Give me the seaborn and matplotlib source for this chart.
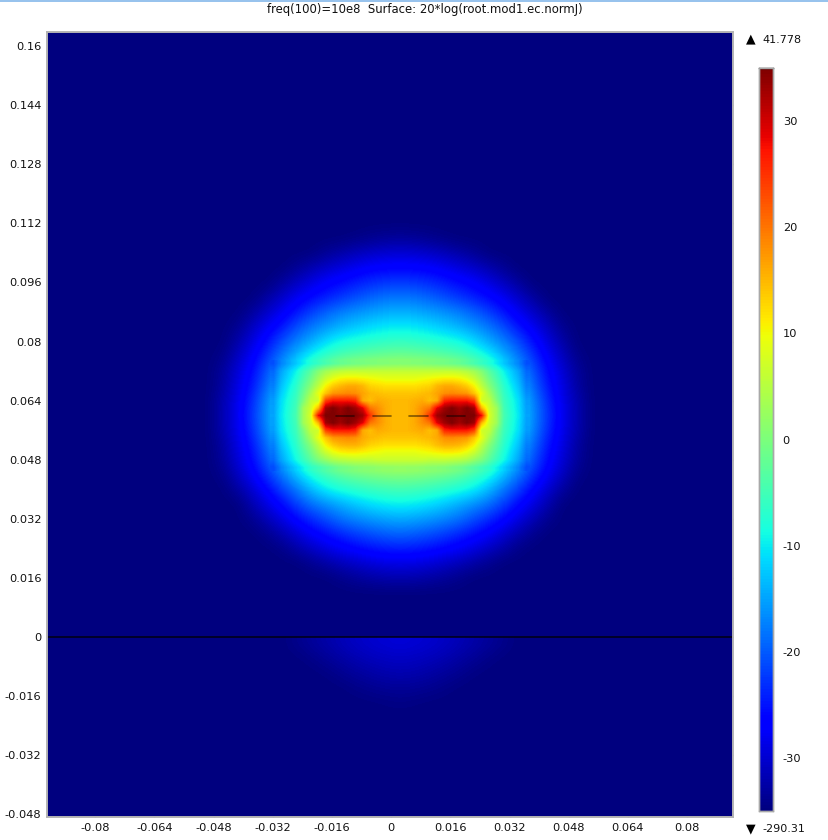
import numpy as np
import pandas as pd
import matplotlib.pyplot as plt
import seaborn as sns
from matplotlib.lines import Line2D

title = "freq(100)=10e8  Surface: 20*log(root.mod1.ec.normJ)"
max_label = "41.778"
min_label = "-290.31"
x_ticks = [-0.08, -0.064, -0.048, -0.032, -0.016, 0, 0.016, 0.032, 0.048, 0.064, 0.08]
y_ticks = [-0.048, -0.032, -0.016, 0, 0.016, 0.032, 0.048, 0.064, 0.08, 0.096, 0.112, 0.128, 0.144, 0.16]
cbar_ticks = [-30, -20, -10, 0, 10, 20, 30]

# the pattern is centred a bit right of x=0
center_x = 0.0024
center_y = 0.06

# field: rows y=0.112 down to 0.008, cols are distance from center_x, 0.004 apart
field_half = [
    [-35, -35, -35, -35, -35, -35, -35, -35, -35, -35, -35, -35, -35, -35, -35],
    [-33.3, -33.5, -34, -34.6, -35, -35, -35, -35, -35, -35, -35, -35, -35, -35, -35],
    [-29.8, -30, -30.6, -31.4, -32.5, -33.6, -34.9, -35, -35, -35, -35, -35, -35, -35, -35],
    [-26.3, -26.5, -27, -28, -29.2, -30.5, -32, -33.7, -35, -35, -35, -35, -35, -35, -35],
    [-22.2, -22.6, -23.3, -24.5, -25.8, -27, -29, -31, -33.2, -35, -35, -35, -35, -35, -35],
    [-18, -18.5, -19.5, -21, -22.7, -24.3, -26, -28, -30.5, -33, -35, -35, -35, -35, -35],
    [-14, -14.5, -15.3, -16.3, -17.5, -19.5, -22, -25, -28, -30.5, -33.2, -35, -35, -35, -35],
    [-9.9, -10.4, -11.2, -12.5, -14, -16, -18, -21, -25, -28, -31, -34, -35, -35, -35],
    [-6, -6.4, -7, -7.8, -8.6, -11, -14.5, -17.5, -21, -25.5, -29.3, -32.5, -35, -35, -35],
    [-1, -1.3, -2, -3, -4.2, -6.3, -9, -13.5, -18, -22.7, -27.5, -31, -34.3, -35, -35],
    [6, 6, 6, 6, 5, 1.5, -3.5, -9.5, -15, -20.5, -26, -29.7, -33.3, -35, -35],
    [12, 12, 13, 16, 15, 10.5, 1, -7, -13, -19, -25, -29, -33, -35, -35],
    [15, 15, 13, 25, 26, 25, 4, -5.5, -11, -17, -23.5, -28.5, -32, -35, -35],
    [15, 15, 24, 35, 35, 35, 6, -4.5, -10.4, -16.6, -22.8, -28.2, -31.9, -35, -35],
    [15, 15, 13, 25, 26, 25, 4, -5.5, -11, -17, -23.5, -28.5, -32, -35, -35],
    [12, 12, 13, 15.5, 15, 10.5, 1, -7, -13, -19, -25, -29, -33, -35, -35],
    [6.5, 6.5, 6, 6, 5, 2, -3, -9, -15, -20.5, -26, -29.7, -33.3, -35, -35],
    [0.5, 0.2, -0.5, -1.5, -3, -5.5, -8, -13, -18, -23, -27.5, -31, -34.3, -35, -35],
    [-5, -5.3, -6, -7, -8, -9.7, -13.5, -18, -22, -26.5, -30, -33, -35, -35, -35],
    [-9.6, -10, -11, -12.5, -14.5, -16.5, -18.5, -22, -26, -29, -32, -35, -35, -35, -35],
    [-14.5, -15, -15.8, -17, -18.3, -21, -23.5, -26.2, -29, -31.5, -34, -35, -35, -35, -35],
    [-19.3, -19.8, -20.8, -22, -23.7, -25.5, -27.3, -29.7, -32, -34, -35, -35, -35, -35, -35],
    [-24.2, -24.5, -25.2, -26.3, -27.5, -29, -30.7, -32.5, -34.4, -35, -35, -35, -35, -35, -35],
    [-28.8, -29, -29.6, -30.5, -31.5, -32.7, -34, -35, -35, -35, -35, -35, -35, -35, -35],
    [-32, -32.2, -32.7, -33.4, -34.2, -35, -35, -35, -35, -35, -35, -35, -35, -35, -35],
    [-35, -35, -35, -35, -35, -35, -35, -35, -35, -35, -35, -35, -35, -35, -35],
    [-35, -35, -35, -35, -35, -35, -35, -35, -35, -35, -35, -35, -35, -35, -35],
]

# finer look at the hot spots: rows dy=0.014 down to -0.014, cols dx=0 .. 0.034, 0.002 apart
hot_half = [
    [0.8, 0.6, 0.5, 0.3, 0, -0.4, -0.8, -1.3, -1.9, -3.1, -4.4, -6, -7.6, -10, -12.5, -14.9, -17.3, -20.8],
    [6, 6, 6, 6, 6, 6, 6, 6, 5.5, 4.5, 3, 0.5, -3, -6, -9.5, -12.2, -15, -19.1],
    [9, 9, 9, 9.5, 10, 10.5, 11, 11, 10.5, 9, 6.5, 3, -1, -4.5, -8.2, -11.1, -14, -18.3],
    [12, 12, 12, 12.5, 13, 15, 16, 16, 15, 13.5, 10.5, 5.5, 1, -3, -7, -10, -13, -17.5],
    [14, 14, 14, 14.5, 15, 16.5, 18, 18.5, 18, 17.5, 14, 9, 3.5, -1.5, -6.2, -9, -12, -16.5],
    [15, 15, 15.5, 16, 14.5, 16, 26, 27, 27, 27, 24, 7, 6, 0, -5.5, -8.2, -11, -15.5],
    [15, 15, 16, 18, 20, 29, 33, 35, 33, 35, 33, 15, 7, 3, -5, -7.8, -10.7, -15.2],
    [15, 15, 16, 19, 25, 33, 35, 35, 34, 35, 35, 28, 8, 3, -4.5, -7.5, -10.4, -15],
    [15, 15, 16, 18, 20, 29, 33, 35, 33, 35, 33, 15, 7, 3, -5, -7.8, -10.7, -15.2],
    [15, 15, 15.5, 16, 14.5, 16, 26, 27, 27, 27, 24, 7, 6, 0, -5.5, -8.2, -11, -15.5],
    [14, 14, 14, 14.5, 15, 16, 18, 18.5, 18, 17.5, 14, 9, 3.5, -1.5, -6.2, -9, -12, -16.5],
    [12, 12, 12, 12.5, 13, 14.5, 15.5, 15.5, 15, 13.5, 10.5, 5.5, 1, -3, -7, -10, -13, -17.5],
    [9, 9, 9, 9.5, 10, 10.5, 11, 11, 10.5, 9, 6.5, 3, -1, -4.5, -8, -11, -14, -18.3],
    [6.5, 6.5, 6.5, 6.5, 6, 6, 6, 5.5, 5, 4, 2, 0, -3, -6, -9, -12, -15, -19.1],
    [2, 1.9, 1.8, 1.5, 1.1, 0.8, 0.4, -0.3, -1, -2.3, -3.6, -5.2, -6.8, -9.4, -12, -14.6, -17.3, -21],
]

# weak lobe below the y=0 interface: rows y=-0.002 .. -0.022, cols dx=0 .. 0.032
lobe_half = [
    [-29.5, -29.8, -30.2, -30.8, -31.6, -32.5, -33.3, -34.2, -35],
    [-30.8, -31, -31.4, -32, -32.8, -33.6, -34.5, -35, -35],
    [-32, -32.2, -32.7, -33.3, -34, -34.8, -35, -35, -35],
    [-33.5, -33.7, -34, -34.5, -35, -35, -35, -35, -35],
    [-34.6, -34.8, -35, -35, -35, -35, -35, -35, -35],
    [-35, -35, -35, -35, -35, -35, -35, -35, -35],
]

# wire segments of the antenna
wire_y = 0.0598
wire_start = [-0.0149, -0.0049, 0.0049, 0.0151]
wire_end = [-0.0100, 0.0, 0.0100, 0.0200]


def mirror(rows):
    rows = np.array(rows, dtype=float)
    return np.hstack([rows[:, :0:-1], rows])


step = 0.004
n_side = 24
x_cols = center_x + step * np.arange(-n_side, n_side + 1)
y_rows = 0.168 - step * np.arange(56)

field = np.full((len(y_rows), len(x_cols)), -35.0)
top_row = int(round((0.168 - 0.112) / step))
window = mirror(field_half)
left_col = n_side - (window.shape[1] // 2)
field[top_row:top_row + window.shape[0], left_col:left_col + window.shape[1]] = window
df = pd.DataFrame(field, index=np.round(y_rows, 3), columns=np.round(x_cols, 4))


def col_pos(x):
    return (np.asarray(x) - x_cols[0]) / step + 0.5


def row_pos(y):
    return (y_rows[0] - np.asarray(y)) / step + 0.5


sns.set_style("white")
plt.rcParams['font.family'] = ['DejaVu Sans']

fig = plt.figure(figsize=(8.29, 8.40), dpi=100)
W, H = 829.0, 840.0
ax = fig.add_axes([47 / W, 1 - 817 / H, (733 - 47) / W, (817 - 32) / H])
cax = fig.add_axes([759 / W, 1 - 811 / H, 14 / W, (811 - 68) / H])

sns.heatmap(df, ax=ax, cmap='jet', vmin=-35, vmax=35, cbar_ax=cax,
            xticklabels=False, yticklabels=False, linewidths=0)

# smooth the same values, the heatmap cells are too blocky on their own
img_opts = dict(cmap='jet', vmin=-35, vmax=35, aspect='auto', interpolation_stage='data')
ax.imshow(field, extent=(0, field.shape[1], field.shape[0], 0), zorder=2,
          interpolation='bicubic', **img_opts)

hot = mirror(hot_half)
ax.imshow(hot, extent=(col_pos(center_x - 0.035), col_pos(center_x + 0.035),
                       row_pos(center_y - 0.015), row_pos(center_y + 0.015)),
          zorder=3, interpolation='bilinear', **img_opts)

lobe = mirror(lobe_half)
ax.imshow(lobe, extent=(col_pos(center_x - 0.034), col_pos(center_x + 0.034),
                        row_pos(-0.024), row_pos(0.0)),
          zorder=3, interpolation='bicubic', **img_opts)

ax.set_xlim(col_pos(-0.0930), col_pos(0.0924))
ax.set_ylim(row_pos(-0.0487), row_pos(0.1638))

ax.axhline(row_pos(0), color='black', lw=1.2, alpha=0.8, zorder=4)
for a, b in zip(wire_start, wire_end):
    ax.plot([col_pos(a), col_pos(b)], [row_pos(wire_y), row_pos(wire_y)],
            color='black', lw=1.2, alpha=0.5, zorder=4)

ax.set_xticks(col_pos(x_ticks))
ax.set_xticklabels([str(t) for t in x_ticks], rotation=0)
ax.set_yticks(row_pos(y_ticks))
ax.set_yticklabels([str(t) for t in y_ticks], rotation=0)
ax.tick_params(axis='both', which='major', direction='in', length=3, width=0.8, color='black',
               labelsize=8.2, labelcolor='#111111', top=True, right=True, bottom=True, left=True, pad=4)
for side in ax.spines.values():
    side.set_visible(True)
    side.set_color('#b4b4b4')
    side.set_linewidth(1.4)
    side.set_zorder(5)

cax.set_yticks(cbar_ticks)
cax.set_yticklabels([str(t) for t in cbar_ticks])
cax.tick_params(axis='y', direction='in', length=3, width=0.8, color='black', labelsize=8.2,
                labelcolor='#111111', left=True, right=True, pad=7)
for side in cax.spines.values():
    side.set_visible(True)
    side.set_color('#a8a8a8')
    side.set_linewidth(1.0)
cax.spines['top'].set_color('black')

fig.text(425 / W, 1 - 10 / H, title, ha='center', va='center', fontsize=8.4, color='#111111')
fig.text(751 / W, 1 - 39 / H, '\u25b2', ha='center', va='center', fontsize=9, color='black')
fig.text(762 / W, 1 - 40 / H, max_label, ha='left', va='center', fontsize=8, color='#111111')
fig.text(751 / W, 1 - 829 / H, '\u25bc', ha='center', va='center', fontsize=9, color='black')
fig.text(762 / W, 1 - 829 / H, min_label, ha='left', va='center', fontsize=8, color='#111111')
fig.add_artist(Line2D([0, 1], [1 - 0.7 / H, 1 - 0.7 / H], color='#84b8ea', lw=1.2))

fig.savefig('out.png', dpi=100)
